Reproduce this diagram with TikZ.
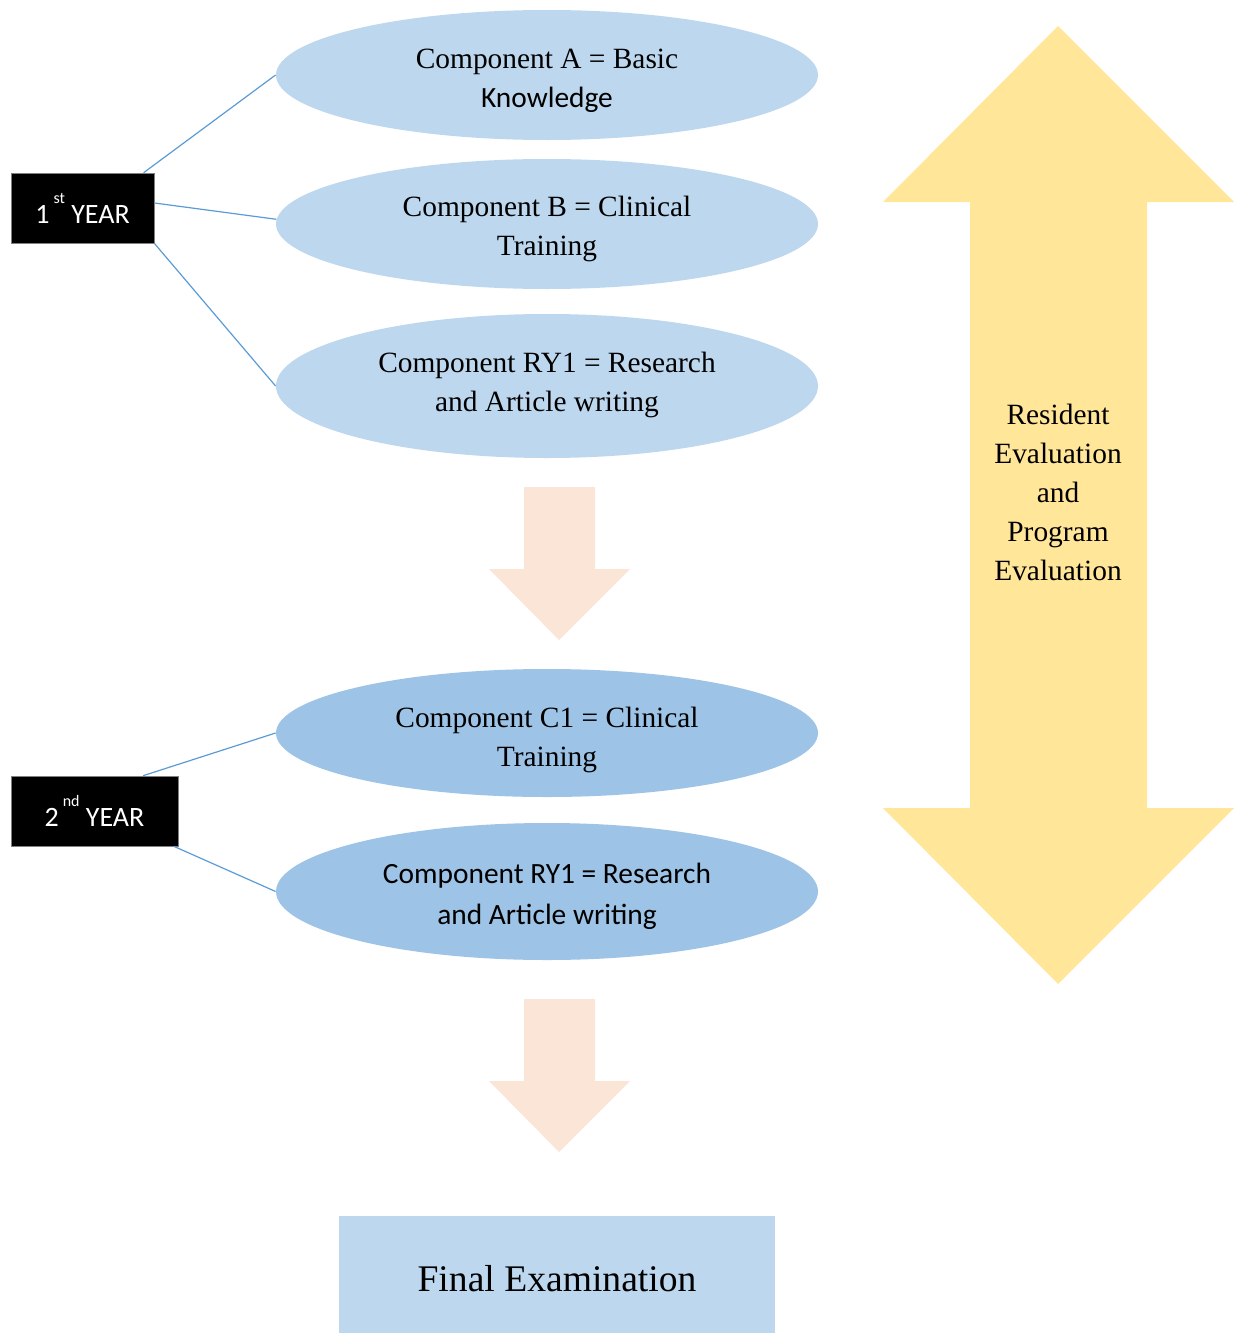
\documentclass[tikz,border=0pt]{standalone}
\usepackage{fontspec}
\setmainfont{Liberation Serif}
\setsansfont{Carlito}
\usepackage{tikz}
\usetikzlibrary{shapes.geometric}
\definecolor{compblue}{HTML}{BDD7EE}
\definecolor{compdark}{HTML}{9DC3E6}
\definecolor{flowpeach}{HTML}{FBE5D6}
\definecolor{evalyellow}{HTML}{FFE699}
\definecolor{linkblue}{HTML}{5B9BD5}
\newcommand{\yearsup}[1]{\kern2pt\raisebox{10pt}{\fontsize{8}{8}\selectfont #1}}

\begin{document}
\begin{tikzpicture}[x=0.5pt, y=-0.5pt,
    comp/.style={ellipse, fill=compblue, minimum width=271pt, inner sep=0pt},
    comptext/.style={align=center, inner sep=0pt, font=\fontsize{14.7}{19.5}\selectfont},
    yearbox/.style={rectangle, fill=black, draw=gray, line width=0.3pt, text=white,
        minimum height=35pt, inner sep=0pt, font=\sffamily\fontsize{14}{17}\selectfont},
    link/.style={linkblue, line width=0.6pt}]
    \useasboundingbox (0,0) rectangle (1236,1333);

    % Double arrow for evaluation
    \fill[evalyellow] (1058,26) -- (1234,202) -- (1147,202) -- (1147,808) -- (1234,808)
        -- (1058,984) -- (883,808) -- (970,808) -- (970,202) -- (883,202) -- cycle;
    \node[comptext] (evaltext) at (1058,492.5)
        {Resident\\Evaluation\\and\\Program\\Evaluation};

    % Flow arrows
    \foreach \y in {0,512} {
        \fill[flowpeach] (524,487+\y) -- (595,487+\y) -- (595,569+\y) -- (630,569+\y)
            -- (559,640+\y) -- (489,569+\y) -- (524,569+\y) -- cycle;
    }

    % First year components
    \node[comp, minimum height=65pt] (compA) at (547,75) {};
    \node[comptext] (textA) at (547,81) {Component A = Basic\\\sffamily Knowledge};
    \node[comp, minimum height=65pt] (compB) at (547,224) {};
    \node[comptext] (textB) at (547,229) {Component B = Clinical\\Training};
    \node[comp, minimum height=72pt] (compR) at (547,386) {};
    \node[comptext] (textR) at (547,385) {Component RY1 = Research\\and Article writing};

    % Second year components
    \node[comp, fill=compdark, minimum height=64pt] (compC) at (547,733) {};
    \node[comptext] (textC) at (547,740) {Component C1 = Clinical\\Training};
    \node[comp, fill=compdark, minimum height=68.5pt] (compRb) at (547,891.5) {};
    \node[comptext, font=\sffamily\fontsize{14.7}{20.5}\selectfont] (textRb) at (547,896)
        {Component RY1 = Research\\and Article writing};

    % Final box
    \node[fill=compblue, minimum width=218pt, minimum height=58.5pt, inner sep=0pt] (final)
        at (557,1274.5) {};
    \node[font=\fontsize{18.8}{22}\selectfont, inner sep=0pt] (finaltext) at (557,1279)
        {Final Examination};

    % Year labels
    \node[yearbox, minimum width=71.5pt] (year1) at (82.5,208) {1\yearsup{st} YEAR};
    \node[yearbox, minimum width=83.5pt] (year2) at (94.5,811) {2\yearsup{nd} YEAR};

    % Links
    \draw[link] (year1.30) -- (compA.west);
    \draw[link] (year1.4) -- (compB.179);
    \draw[link] (year1.south east) -- (compR.west);
    \draw[link] (year2.36) -- (compC.west);
    \draw[link] (year2.-24) -- (compRb.west);
\end{tikzpicture}
\end{document}
